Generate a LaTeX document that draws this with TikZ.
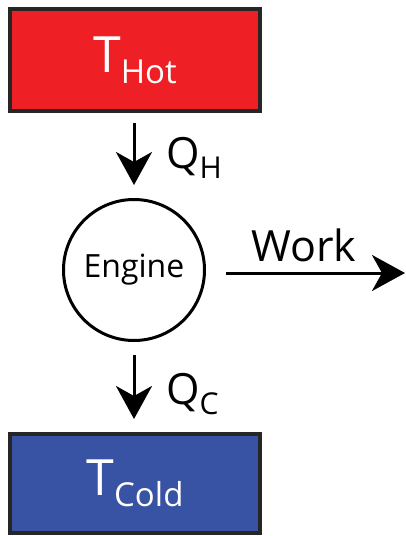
\documentclass[tikz,border=0pt]{standalone}
\usepackage{fontspec}
\setmainfont{Open Sans}
\usetikzlibrary{arrows.meta}
\definecolor{hotred}{HTML}{EE1F25}
\definecolor{coldblue}{HTML}{3953A4}
% letter with a lowered, smaller index
\newcommand{\withsub}[3][0.66]{#2\raisebox{-0.22em}{\scalebox{#1}{#3}}}

\begin{document}
\begin{tikzpicture}[x=1pt,y=-1pt,
		reservoir/.style={draw=black!85, line width=4pt, minimum width=250pt, inner sep=0pt,
			text=white, font=\fontsize{50}{50}\selectfont},
		flow/.style={line width=3pt, -{Stealth[length=33pt,width=36pt,inset=10pt]}},
		heatlabel/.style={anchor=west, inner sep=0pt, font=\fontsize{43}{43}\selectfont}]
		\useasboundingbox (0,0) rectangle (406,536);
		% reservoirs and engine
		\node [reservoir, fill=hotred, minimum height=102pt] (hot) at (135,60) {\withsub{T}{Hot}};
		\node [circle, draw, line width=3pt, minimum size=141pt, inner sep=0pt,
			font=\fontsize{32}{32}\selectfont] (engine) at (134,270) {Engine};
		\node [reservoir, fill=coldblue, minimum height=99pt] (cold) at (135,483.5) {\withsub{T}{Cold}};
		\coordinate (workend) at (405,273);
		% heat flows and work output
		\draw [flow, shorten <=10pt, shorten >=13pt] (hot.south -| engine.north) -- (engine.north);
		\draw [flow, shorten <=13pt, shorten >=13pt] (engine.south) -- (cold.north -| engine.south);
		\draw [flow, shorten <=20pt] (engine.east |- workend) -- (workend);
		\node [heatlabel] (qh) at (166,158) {\withsub[0.7]{Q}{H}};
		\node [heatlabel] (qc) at (166,394) {\withsub[0.7]{Q}{C}};
		\node [heatlabel, anchor=south] (work) at (304,262) {Work};
\end{tikzpicture}
\end{document}
